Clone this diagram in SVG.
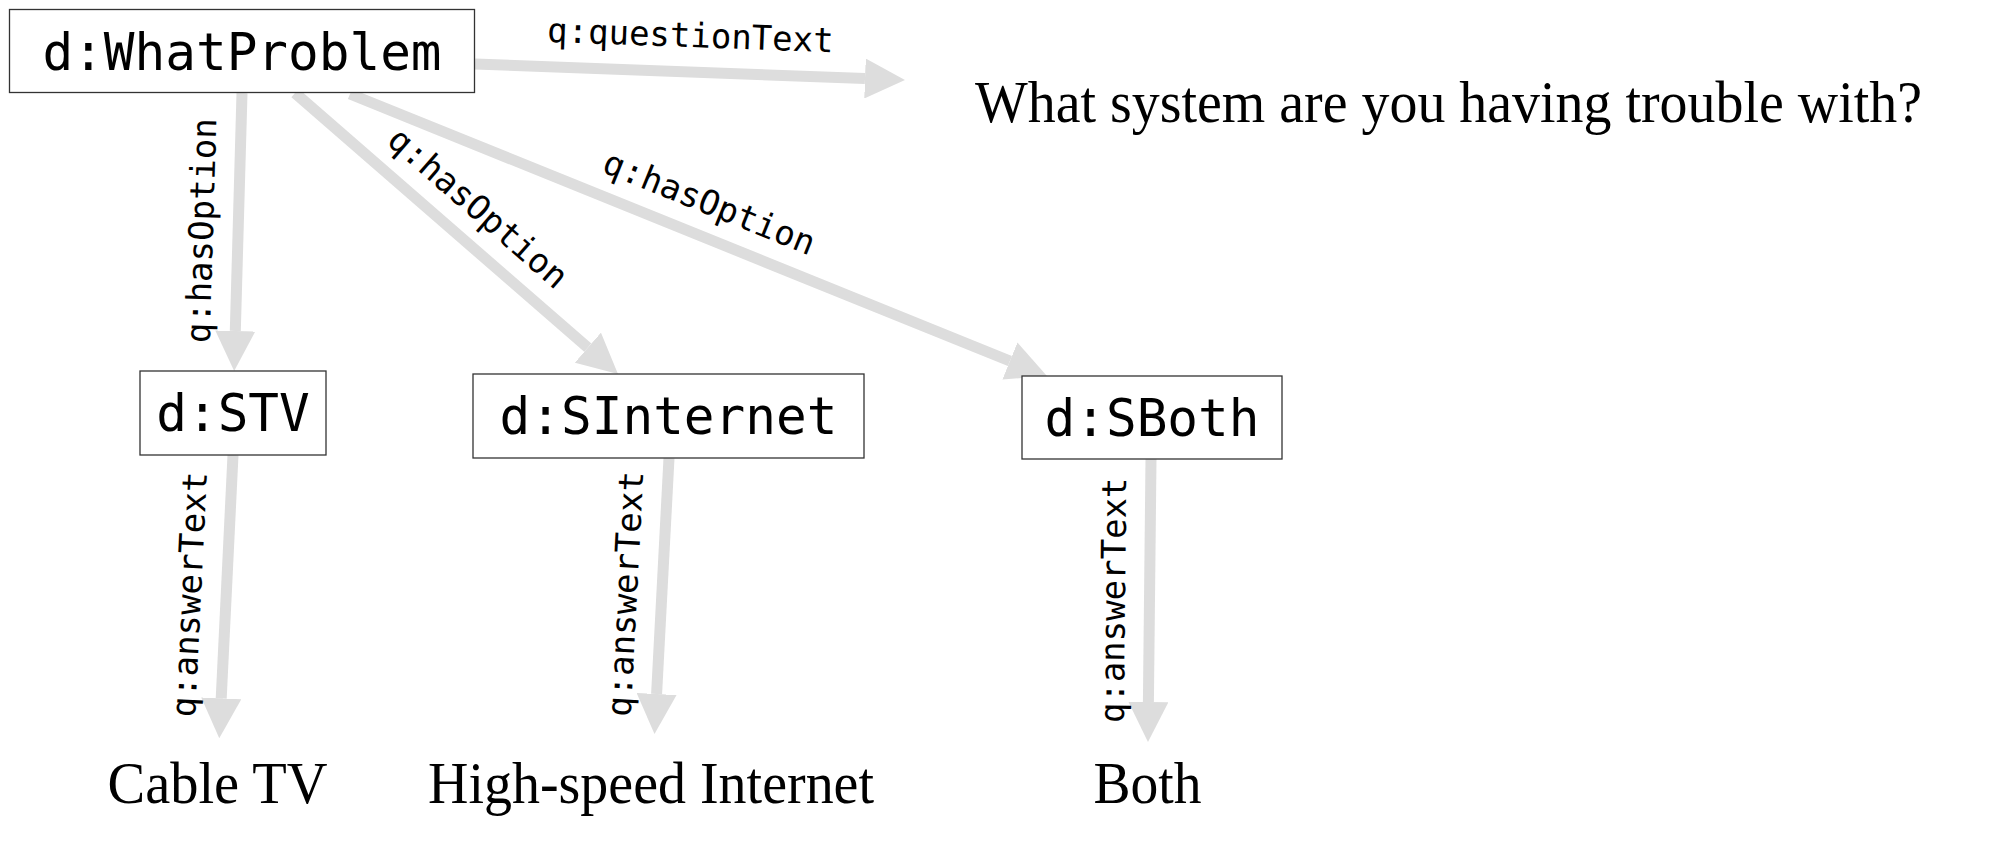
<svg xmlns="http://www.w3.org/2000/svg" width="2000" height="846" viewBox="0 0 2000 846">
<style>
.node rect{fill:#fff;stroke:#333;stroke-width:1.3}
.node text{font-family:"DejaVu Sans Mono","Liberation Mono",monospace;font-size:51px;fill:#000;text-anchor:middle}
.edge{fill:none;stroke:#ddd;stroke-width:11}
.lbl{font-family:"DejaVu Sans Mono","Liberation Mono",monospace;font-size:34px;fill:#000;text-anchor:middle}
.lit{font-family:"Liberation Serif","Times New Roman",serif;font-size:59px;fill:#000}
</style>
<defs>
<marker id="arr" markerUnits="userSpaceOnUse" markerWidth="40" markerHeight="40" refX="0" refY="20" orient="auto" viewBox="0 0 40 40">
<path d="M0,0 L40,20 L0,40 z" fill="#ddd"/>
</marker>
</defs>
<rect width="2000" height="846" fill="#fff"/>
<g id="connectors">
<line class="edge" x1="475" y1="64" x2="865" y2="78.5" marker-end="url(#arr)"/>
<line class="edge" x1="242" y1="93" x2="235.3" y2="331" marker-end="url(#arr)"/>
<line class="edge" x1="295" y1="93" x2="587.8" y2="347.7" marker-end="url(#arr)"/>
<line class="edge" x1="350" y1="94" x2="1009.9" y2="361" marker-end="url(#arr)"/>
<line class="edge" x1="233" y1="455" x2="221.2" y2="698.4" marker-end="url(#arr)"/>
<line class="edge" x1="669" y1="458" x2="656.6" y2="694" marker-end="url(#arr)"/>
<line class="edge" x1="1151" y1="459" x2="1148.4" y2="702" marker-end="url(#arr)"/>
<text class="lbl" transform="translate(690,47) rotate(2.1)">q:questionText</text>
<text class="lbl" transform="translate(213,231) rotate(-88.3)">q:hasOption</text>
<text class="lbl" transform="translate(470.5,216.5) rotate(41)">q:hasOption</text>
<text class="lbl" transform="translate(705,213.5) rotate(22)">q:hasOption</text>
<text class="lbl" transform="translate(201,595) rotate(-87.2)">q:answerText</text>
<text class="lbl" transform="translate(637,594.5) rotate(-87)">q:answerText</text>
<text class="lbl" transform="translate(1125,600.5) rotate(-89.4)">q:answerText</text>
</g>
<g id="WhatProblem" class="node">
<rect x="9.5" y="9.5" width="465" height="83"/>
<text x="242" y="70">d:WhatProblem</text>
</g>
<g id="STV" class="node">
<rect x="140" y="371" width="186" height="84"/>
<text x="233" y="431">d:STV</text>
</g>
<g id="SInternet" class="node">
<rect x="473" y="374" width="391" height="84"/>
<text x="668.5" y="434">d:SInternet</text>
</g>
<g id="SBoth" class="node">
<rect x="1022" y="376" width="260" height="83"/>
<text x="1152" y="436">d:SBoth</text>
</g>
<g id="questionText">
<text class="lit" x="975" y="122" textLength="947" lengthAdjust="spacingAndGlyphs">What system are you having trouble with?</text>
</g>
<g id="CableTV">
<text class="lit" x="217.5" y="803" text-anchor="middle" textLength="220" lengthAdjust="spacingAndGlyphs">Cable TV</text>
</g>
<g id="HighSpeedInternet">
<text class="lit" x="651" y="803" text-anchor="middle" textLength="446" lengthAdjust="spacingAndGlyphs">High-speed Internet</text>
</g>
<g id="Both">
<text class="lit" x="1147.5" y="803" text-anchor="middle" textLength="108" lengthAdjust="spacingAndGlyphs">Both</text>
</g>
</svg>
